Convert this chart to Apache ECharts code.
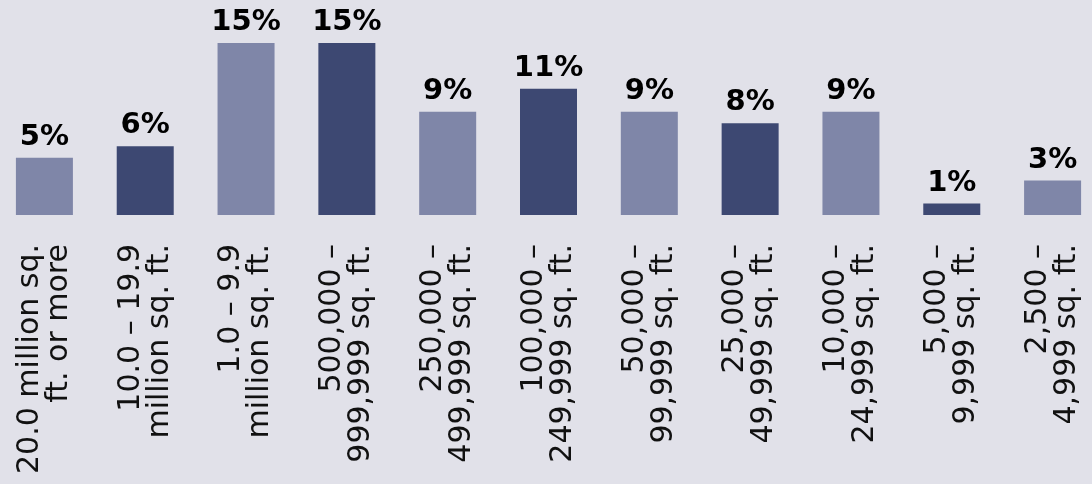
<!DOCTYPE html>
<html>
<head>
<meta charset="utf-8">
<script src="https://cdn.jsdelivr.net/npm/echarts@6/dist/echarts.min.js"></script>
<style>
  html, body { margin: 0; padding: 0; background: #e1e1e9; overflow: hidden; width: 1092px; height: 484px; }
  #chart { position: absolute; left: -6px; top: 0; width: 1109px; height: 484px; }
</style>
</head>
<body>
<div id="chart"></div>
<script>
// Facility size bands (by floor area) and share of respondents in each
const categories = [
  '20.0 million sq.\nft. or more',
  '10.0 – 19.9\nmillion sq. ft.',
  '1.0 – 9.9\nmillion sq. ft.',
  '500,000 –\n999,999 sq. ft.',
  '250,000 –\n499,999 sq. ft.',
  '100,000 –\n249,999 sq. ft.',
  '50,000 –\n99,999 sq. ft.',
  '25,000 –\n49,999 sq. ft.',
  '10,000 –\n24,999 sq. ft.',
  '5,000 –\n9,999 sq. ft.',
  '2,500 –\n4,999 sq. ft.'
];
const shares = [5, 6, 15, 15, 9, 11, 9, 8, 9, 1, 3];

const lightBar = '#7f86a8';
const darkBar = '#3d4872';

const chart = echarts.init(document.getElementById('chart'), null, { renderer: 'canvas' });

chart.setOption({
  backgroundColor: '#e1e1e9',
  animation: false,
  grid: { left: 0, right: 0, top: 43, bottom: 269, containLabel: false },
  xAxis: {
    type: 'category',
    data: categories,
    axisLine: { show: false },
    axisTick: { show: false },
    axisLabel: {
      rotate: 90,
      interval: 0,
      margin: 29,
      color: '#111111',
      fontFamily: 'DejaVu Sans',
      fontSize: 30,
      lineHeight: 29
    }
  },
  yAxis: {
    type: 'value',
    min: 0,
    max: 15,
    show: false,
    splitLine: { show: false }
  },
  series: [{
    type: 'bar',
    barWidth: 57,
    data: shares.map((v, i) => ({
      value: v,
      itemStyle: { color: i % 2 === 0 ? lightBar : darkBar }
    })),
    label: {
      show: true,
      position: 'top',
      distance: 6,
      formatter: '{c}%',
      color: '#000000',
      fontFamily: 'DejaVu Sans',
      fontWeight: 'bold',
      fontSize: 29
    }
  }]
});
</script>
</body>
</html>
